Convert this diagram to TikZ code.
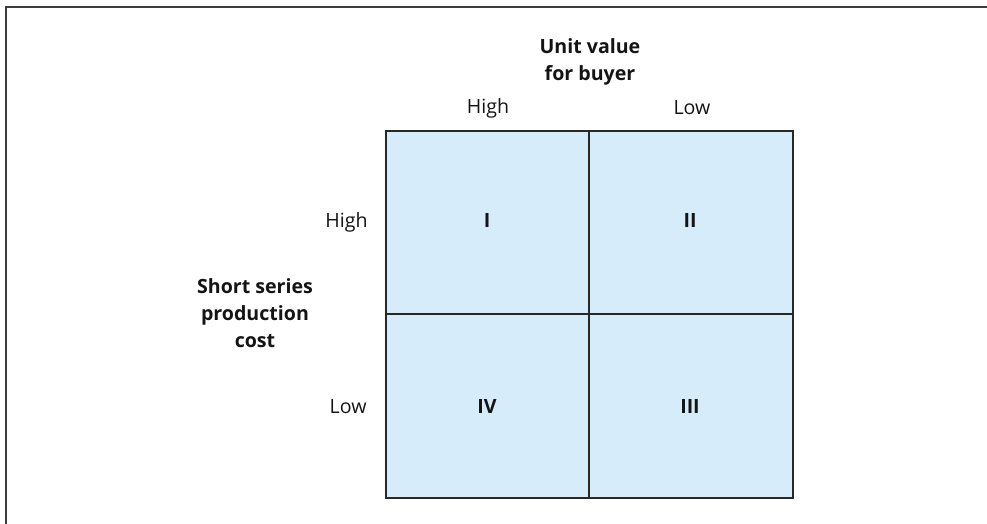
\documentclass[tikz,border=0pt]{standalone}
\usepackage{fontspec}
\setmainfont{Open Sans}
\definecolor{cellblue}{RGB}{214,236,250}
\definecolor{gridline}{RGB}{40,40,40}
\definecolor{framegray}{RGB}{60,60,60}
\begin{document}
\begin{tikzpicture}[x=0.5pt,y=-0.5pt,
  lbl/.style={font=\fontsize{9.8}{13.5}\selectfont, inner sep=0pt, text=black!92},
  head/.style={lbl, font=\fontsize{9.8}{13.5}\selectfont\bfseries, align=center},
  numeral/.style={lbl, font=\fontsize{9.8}{13.5}\selectfont\bfseries}]
  \useasboundingbox (0,0) rectangle (987,524);
  % outer frame (open to the right and bottom)
  \draw[framegray, line width=1.3pt] (6,524) -- (6,7) -- (987,7);
  % matrix cells
  \fill[cellblue] (386,131) rectangle (793,498);
  \draw[gridline, line width=0.9pt] (589,131) -- (589,498);
  \draw[gridline, line width=0.9pt] (386,314) -- (793,314);
  \draw[gridline, line width=1.1pt] (386,131) rectangle (793,498);
  % column heading
  \node[head] (colhead) at (590,62) {Unit value\\for buyer};
  \node[lbl] (colhigh) at (488,108) {High};
  \node[lbl] (collow) at (692,108) {Low};
  % row heading
  \node[head] (rowhead) at (255,313) {Short series\\production\\cost};
  \node[lbl, anchor=east] (rowhigh) at (368,222) {High};
  \node[lbl, anchor=east] (rowlow) at (367,407) {Low};
  % quadrant numerals
  \node[numeral] (q1) at (487,221) {I};
  \node[numeral] (q2) at (690,221) {II};
  \node[numeral] (q4) at (487,407) {IV};
  \node[numeral] (q3) at (690,407) {III};
\end{tikzpicture}
\end{document}
